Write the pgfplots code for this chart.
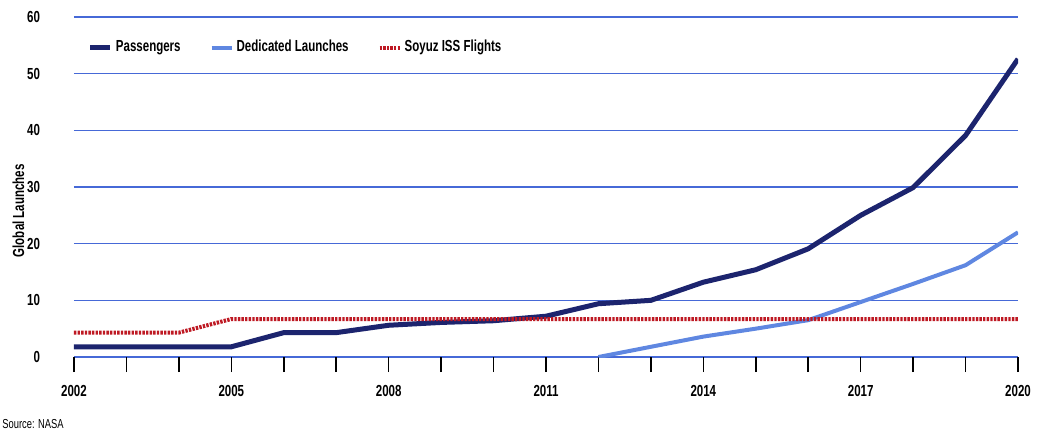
\documentclass[border=0pt]{standalone}
\usepackage{fontspec}
\setmainfont{Liberation Sans}[FakeStretch=0.72]
\usepackage{pgfplots}
\pgfplotsset{compat=1.18}
\definecolor{paxnavy}{RGB}{28,36,110}
\definecolor{dedblue}{RGB}{95,135,225}
\definecolor{soyred}{RGB}{190,25,35}
\definecolor{gridblue}{RGB}{70,105,215}

\pgfplotstableread{
year pax
2002 1.8
2003 1.8
2004 1.8
2005 1.8
2006 4.3
2007 4.3
2008 5.6
2009 6.1
2010 6.4
2011 7.2
2012 9.4
2013 10.0
2014 13.2
2015 15.4
2016 19.1
2017 25.0
2018 29.9
2019 39.1
2020 52.6
}\passengers

\pgfplotstableread{
year ded
2012 0.0
2013 1.8
2014 3.6
2015 5.0
2016 6.5
2017 9.7
2018 12.9
2019 16.2
2020 22.0
}\dedicated

\pgfplotstableread{
year soy
2002 4.3
2003 4.3
2004 4.3
2005 6.7
2006 6.7
2007 6.7
2008 6.7
2009 6.7
2010 6.7
2011 6.7
2012 6.7
2013 6.7
2014 6.7
2015 6.7
2016 6.7
2017 6.7
2018 6.7
2019 6.7
2020 6.7
}\soyuz

\begin{document}
\begin{tikzpicture}
\begin{axis}[
  scale only axis, width=472pt, height=170pt,
  xmin=2002, xmax=2020, ymin=0, ymax=60,
  axis line style={draw=none},
  font=\fontsize{8}{9.5}\selectfont\bfseries,
  ymajorgrids, grid style={gridblue, line width=0.6pt},
  ytick={0,10,20,30,40,50,60},
  yticklabels={0,10,20,30,40,50,60},
  ytick style={draw=none},
  yticklabel style={xshift=-6pt},
  xtick={2002,2005,2008,2011,2014,2017,2020},
  xticklabels={2002,2005,2008,2011,2014,2017,2020},
  minor xtick={2003,2004,2006,2007,2009,2010,2012,2013,2015,2016,2018,2019},
  xtick pos=bottom, tick align=outside,
  major tick length=7.5pt, minor tick length=7.5pt,
  xtick style={black, line width=0.8pt},
  minor x tick style={black, line width=0.8pt},
  xticklabel style={yshift=-3pt},
  ylabel={Global Launches},
  ylabel style={at={(axis description cs:-0.059,0.43)}, anchor=center},
  legend columns=3,
  legend style={at={(axis description cs:0.008,0.91)}, anchor=west,
    draw=none, fill=none, font=\fontsize{8}{9.5}\selectfont\bfseries,
    /tikz/every even column/.append style={column sep=13pt},
    nodes={inner sep=1.5pt}},
  legend cell align=left,
  legend image code/.code={\draw[#1] (0pt,0pt) -- (10pt,0pt);},
]
\addplot[paxnavy, line width=2.5pt] table[x=year, y=pax] {\passengers};
\addplot[dedblue, line width=2pt] table[x=year, y=ded] {\dedicated};
\addplot[soyred, line width=2pt, dash pattern=on 1.2pt off 0.6pt] table[x=year, y=soy] {\soyuz};
\legend{Passengers, Dedicated Launches, Soyuz ISS Flights}
\end{axis}
\node[anchor=south west, inner sep=1pt, font=\fontsize{6.5}{7.5}\selectfont] at (-37pt,-37pt) {Source: NASA};
\pgfresetboundingbox
\path[use as bounding box] (-37pt,-38pt) rectangle (484pt,178.5pt);
\end{tikzpicture}
\end{document}
